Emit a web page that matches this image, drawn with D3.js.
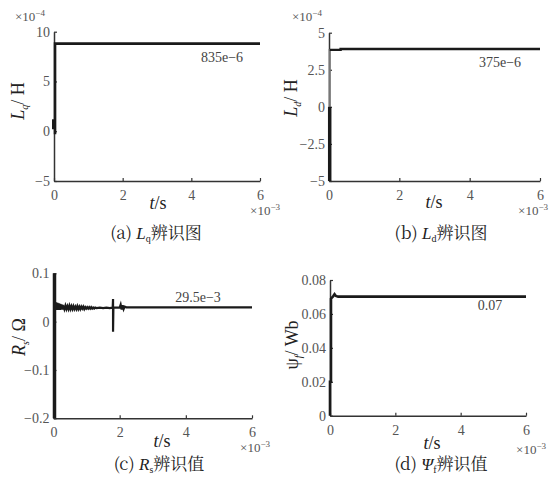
<!DOCTYPE html>
<html><head><meta charset="utf-8">
<script src="https://cdn.jsdelivr.net/npm/d3@7"></script>
<style>body{margin:0;background:#fff} svg{display:block}</style>
</head><body>
<svg id="c" width="558" height="481"></svg>
<script>
// ---------- data (t in 1e-3 s) ----------
const xTicks = [0, 2, 4, 6];
const lqTicks = [-5, 0, 5, 10];          // x 1e-4 H
const ldTicks = [-5, -2.5, 0, 2.5, 5];   // x 1e-4 H
const rsTicks = [-0.2, -0.1, 0, 0.1];
const psiTicks = [0, 0.02, 0.04, 0.06, 0.08];

// Lq identification
const lqT = [0.03, 0.03, 6];
const lqV = [-0.3, 8.8, 8.8];
const lqBurstT = [0.0, 0.0];
const lqBurstV = [0.2, 1.2];

// Ld identification
const ldT = [0.02, 0.33, 0.33, 6];
const ldV = [3.84, 3.84, 3.9, 3.9];
const ldRiseT = [0.02, 0.02];
const ldRiseV = [-5, 3.9];
const ldBurstT = [0.02, 0.02];
const ldBurstV = [-5, 0];

// Rs identification
const rsSpikeT = [0.03, 0.03];
const rsSpikeV = [-0.2, 0.1];
const rsT = [0.03, 0.04, 0.05, 0.06, 0.07, 0.08, 0.09, 0.1, 0.11, 0.12, 0.13, 0.14, 0.15, 0.16, 0.17, 0.18,
  0.19, 0.2, 0.21, 0.22, 0.23, 0.24, 0.25, 0.26, 0.27, 0.28, 0.29, 0.3,
  0.33, 0.36, 0.39, 0.42, 0.45, 0.48, 0.51, 0.54, 0.57, 0.6, 0.63, 0.66, 0.69, 0.72, 0.75, 0.78,
  0.81, 0.84, 0.87, 0.9, 0.93, 0.96, 0.99, 1.02, 1.05, 1.08, 1.11, 1.14, 1.17, 1.2, 1.23, 1.26,
  1.3, 1.4, 1.5, 1.6, 1.7, 1.79, 1.8, 1.8, 1.81,
  1.9, 2.0, 2.03, 2.06, 2.09, 2.12, 2.15, 2.2, 6];
const rsV = [0.03, 0.04, 0.024, 0.039, 0.025, 0.04, 0.024, 0.038, 0.025, 0.039, 0.024, 0.037, 0.025, 0.038,
  0.025, 0.036, 0.024, 0.037, 0.025, 0.035, 0.025, 0.036, 0.026, 0.034, 0.025, 0.035, 0.026, 0.033,
  0.026, 0.033, 0.026, 0.032, 0.026, 0.033, 0.026, 0.032, 0.026, 0.032, 0.026, 0.031, 0.026, 0.032, 0.026, 0.031,
  0.026, 0.031, 0.027, 0.031, 0.026, 0.03, 0.027, 0.03, 0.027, 0.03, 0.027, 0.03, 0.027, 0.029, 0.027, 0.029,
  0.028, 0.029, 0.028, 0.029, 0.028, 0.029, 0.047, -0.021, 0.029,
  0.029, 0.029, 0.035, 0.025, 0.034, 0.026, 0.031, 0.0295, 0.0295];

// Psi_f identification
const psiT = [0.0, 0.0, 0.03, 0.03, 0.1, 0.14, 0.18, 0.25, 6];
const psiV = [0, 0.02, 0.02, 0.069, 0.0705, 0.0716, 0.0706, 0.0702, 0.0702];

const svg = d3.select('#c');
const SERIF = '"Liberation Serif"';
const SONG = '"Noto Serif CJK SC"';
const fmt = v => (v < 0 ? '\u2212' : '') + Math.abs(v);

function zip(t, v) { return t.map((d, i) => [d, v[i]]); }

function panel(cfg) {
  const g = svg.append('g');
  const x = d3.scaleLinear().domain([0, 6]).range([cfg.x0, cfg.x1]);
  const y = d3.scaleLinear().domain(cfg.yd).range([cfg.yb, cfg.yt]);

  const xa = g.append('g').attr('transform', `translate(0,${cfg.yb})`)
    .call(d3.axisBottom(x).tickValues(xTicks).tickSizeInner(-3).tickSizeOuter(0).tickPadding(9).tickFormat(fmt));
  const ya = g.append('g').attr('transform', `translate(${cfg.x0},0)`)
    .call(d3.axisLeft(y).tickValues(cfg.ticks).tickSizeInner(-3).tickSizeOuter(0).tickPadding(4).tickFormat(fmt));
  [xa, ya].forEach(a => {
    a.select('.domain').attr('stroke', '#333').attr('stroke-width', 1.5);
    a.selectAll('.tick line').attr('stroke', '#333').attr('stroke-width', 1.2);
    a.selectAll('.tick text').style('font-family', SERIF).style('font-size', '14px').attr('fill', '#555');
  });

  const line = d3.line().x(d => x(d[0])).y(d => y(d[1]));
  cfg.series.forEach(s => {
    g.append('path').datum(zip(s.t, s.v)).attr('d', line)
      .attr('fill', 'none').attr('stroke', s.color || '#1a1a1a')
      .attr('stroke-width', s.w || 2.4).attr('stroke-linejoin', 'miter');
  });

  // annotation
  g.append('text').style('font-family', SERIF).attr('x', cfg.ann[0]).attr('y', cfg.ann[1]).attr('text-anchor', 'middle')
    .style('font-size', '14px').attr('fill', '#444').text(cfg.ann[2]);

  // x label t/s
  const tl = g.append('text').style('font-family', SERIF).attr('x', cfg.tl[0]).attr('y', cfg.tl[1]).attr('text-anchor', 'middle')
    .style('font-size', '18px').attr('fill', '#222');
  tl.append('tspan').attr('font-style', 'italic').text('t');
  tl.append('tspan').text('/s');

  // x exponent
  const xe = g.append('text').style('font-family', SERIF).attr('x', cfg.xe[0]).attr('y', cfg.xe[1]).attr('text-anchor', 'end')
    .style('font-size', '13px').attr('fill', '#555');
  xe.append('tspan').text('\u00d710');
  xe.append('tspan').style('font-size', '9px').attr('dy', -5).text('\u22123');

  if (cfg.ye) {
    const ye = g.append('text').style('font-family', SERIF).attr('x', cfg.ye[0]).attr('y', cfg.ye[1])
      .style('font-size', '13px').attr('fill', '#555');
    ye.append('tspan').text('\u00d710');
    ye.append('tspan').style('font-size', '9px').attr('dy', -5).text('\u22124');
  }

  // y label (rotated)
  const yl = g.append('text').style('font-family', SERIF).attr('transform', `translate(${cfg.yl[0]},${cfg.yl[1]}) rotate(-90)`)
    .attr('text-anchor', 'middle').style('font-size', '18px').attr('fill', '#222');
  yl.append('tspan').attr('font-style', cfg.yl[5] ? 'normal' : 'italic').text(cfg.yl[2]);
  yl.append('tspan').style('font-size', '10px').attr('dy', 4).attr('font-style', 'italic').text(cfg.yl[3]);
  yl.append('tspan').attr('dy', -4).text(cfg.yl[4]);

  // caption
  const cap = g.append('text').attr('x', cfg.cap[0]).attr('y', cfg.cap[1]).attr('text-anchor', 'middle')
    .style('font-family', SONG).style('font-size', '17px').attr('fill', '#222');
  cap.append('tspan').text(cfg.cap[2] + ' ');
  cap.append('tspan').style('font-family', SERIF).attr('font-style', 'italic').text(cfg.cap[3]);
  cap.append('tspan').style('font-family', SERIF).style('font-size', '10px').attr('dy', 3).text(cfg.cap[4]);
  cap.append('tspan').attr('dy', -3).text(cfg.cap[5]);
}

panel({
  x0: 54, x1: 260, yb: 181, yt: 31.7, yd: [-5, 10], ticks: lqTicks,
  series: [{ t: lqBurstT, v: lqBurstV, w: 4 }, { t: lqT, v: lqV, w: 2.6 }],
  ann: [222, 62, '835e\u22126'], tl: [158, 209], xe: [280, 215], ye: [15, 21],
  yl: [24, 101, 'L', 'q', '/ H'], cap: [156, 239, '(a)', 'L', 'q', '辨识图']
});
panel({
  x0: 329, x1: 540, yb: 181, yt: 32.7, yd: [-5, 5], ticks: ldTicks,
  series: [{ t: ldRiseT, v: ldRiseV, w: 2.2, color: '#777' }, { t: ldBurstT, v: ldBurstV, w: 3.5 },
           { t: ldT, v: ldV, w: 2.4 }],
  ann: [500, 67, '375e\u22126'], tl: [434, 208], xe: [548, 215], ye: [292, 21],
  yl: [297, 98, 'L', 'd', '/ H'], cap: [441, 239, '(b)', 'L', 'd', '辨识图']
});
panel({
  x0: 53.5, x1: 252, yb: 418.3, yt: 273.3, yd: [-0.2, 0.1], ticks: rsTicks,
  series: [{ t: rsSpikeT, v: rsSpikeV, w: 3.5 }, { t: rsT, v: rsV, w: 2.2 }],
  ann: [198, 302, '29.5e\u22123'], tl: [162, 447], xe: [270, 452],
  yl: [25, 337, 'R', 's', '/ \u03a9'], cap: [159, 470, '(c)', 'R', 's', '辨识值']
});
panel({
  x0: 330, x1: 526, yb: 415.7, yt: 280, yd: [0, 0.08], ticks: psiTicks,
  series: [{ t: psiT, v: psiV, w: 2.6 }],
  ann: [490, 310, '0.07'], tl: [432, 449], xe: [546, 454],
  yl: [298, 345, '\u03c8', 'f', '/ Wb', true], cap: [441, 470, '(d)', '\u03a8', 'f', '辨识值']
});
</script>
</body></html>
